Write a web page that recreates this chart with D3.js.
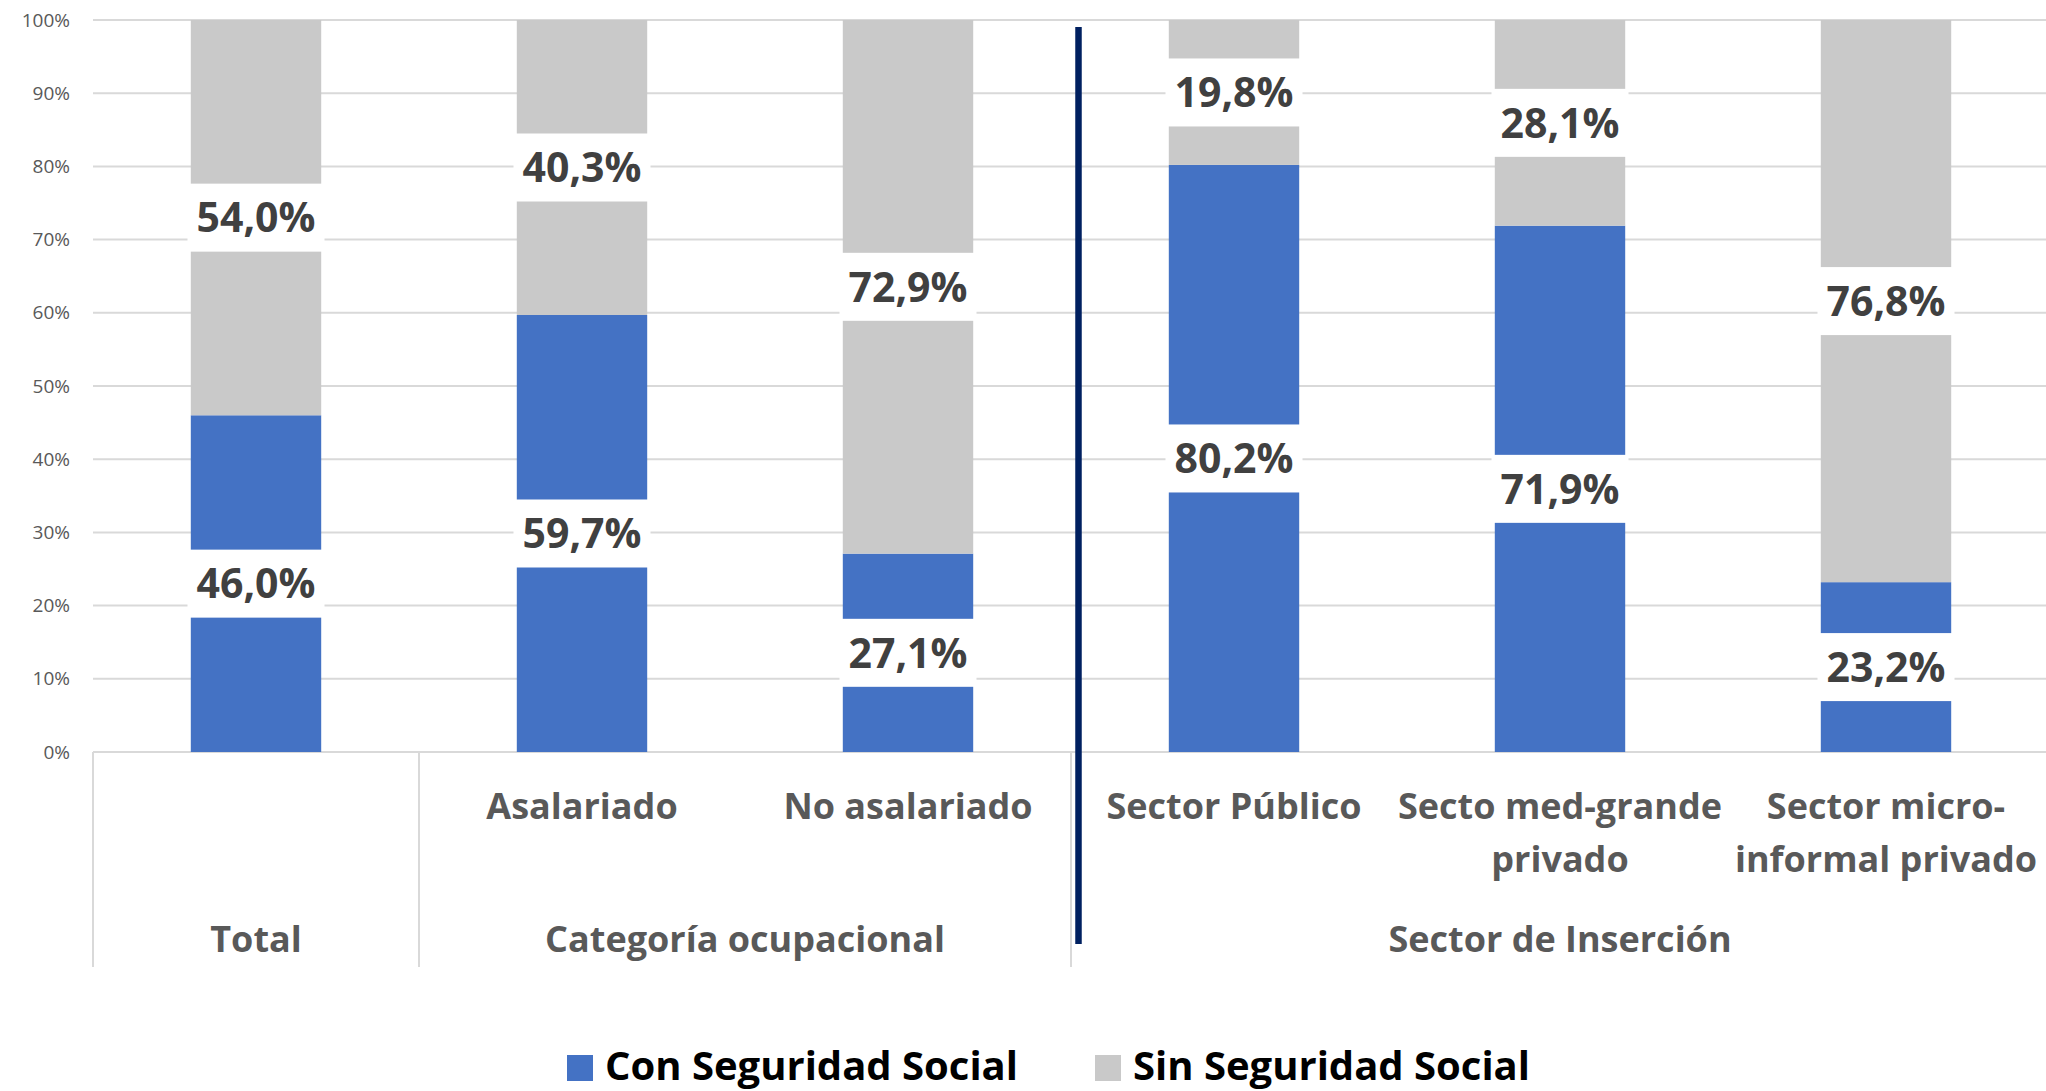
<!DOCTYPE html>
<html>
<head>
<meta charset="utf-8">
<script src="https://cdn.jsdelivr.net/npm/d3@7"></script>
<style>
    body { margin: 0; background: #fff; overflow: hidden; }
    text { font-family: "Open Sans", sans-serif; }
</style>
</head>
<body>
<svg id="chart" width="2046" height="1091"></svg>
<script>
// categories (first row of the axis) and their groups (second row)
const categories = ["Total", "Asalariado", "No asalariado", "Sector Público",
                    "Secto med-grande privado", "Sector micro-informal privado"];
const catLines = [[], ["Asalariado"], ["No asalariado"], ["Sector Público"],
                  ["Secto med-grande", "privado"], ["Sector micro-", "informal privado"]];
const groupNames = ["Total", "Categoría ocupacional", "Sector de Inserción"];
const groupFirst = [0, 1, 3];
const groupLast = [0, 2, 5];

// series, in percent
const conSeguridad = [46.0, 59.7, 27.1, 80.2, 71.9, 23.2];
const sinSeguridad = [54.0, 40.3, 72.9, 19.8, 28.1, 76.8];
const seriesNames = ["Con Seguridad Social", "Sin Seguridad Social"];
const yTicks = [0, 10, 20, 30, 40, 50, 60, 70, 80, 90, 100];

const colors = ["#4472c4", "#c9c9c9"];

let svg = d3.select("#chart");

let x = d3.scaleBand()
    .domain(categories)
    .range([93, 2049])
    .paddingInner(0.6)
    .paddingOuter(0.3);

let y = d3.scaleLinear().domain([0, 100]).range([752, 20]);

// gridlines
svg.append("g").selectAll("line")
    .data(yTicks)
    .join("line")
    .attr("x1", 93).attr("x2", 2049)
    .attr("y1", d => y(d)).attr("y2", d => y(d))
    .attr("stroke", "#d9d9d9")
    .attr("stroke-width", 2);

// y axis labels
let yAxis = svg.append("g")
    .attr("transform", "translate(93,0)")
    .call(d3.axisLeft(y).tickValues(yTicks).tickSize(0).tickPadding(23)
        .tickFormat(d => d + "%"));
yAxis.select(".domain").remove();
yAxis.selectAll("text")
    .attr("fill", "#595959")
    .style("font-size", "19px")
    .style("font-family", "'Open Sans', sans-serif");

// stacked data
let stack = categories.map((c, i) => {
    return [
        {cat: c, s: 0, y0: 0, y1: conSeguridad[i], v: conSeguridad[i]},
        {cat: c, s: 1, y0: conSeguridad[i], y1: conSeguridad[i] + sinSeguridad[i], v: sinSeguridad[i]}
    ];
}).flat();

svg.append("g").selectAll("rect")
    .data(stack)
    .join("rect")
    .attr("x", d => x(d.cat))
    .attr("width", x.bandwidth())
    .attr("y", d => y(d.y1))
    .attr("height", d => y(d.y0) - y(d.y1))
    .attr("fill", d => colors[d.s]);

// value labels on white boxes
let fmt = d3.format(".1f");
let labels = svg.append("g").selectAll("g")
    .data(stack)
    .join("g")
    .attr("transform", d => "translate(" + (x(d.cat) + x.bandwidth() / 2) + "," + y((d.y0 + d.y1) / 2) + ")");

labels.append("rect")
    .attr("x", -68.5).attr("y", -34)
    .attr("width", 137).attr("height", 68)
    .attr("fill", "#fff");

labels.append("text")
    .attr("text-anchor", "middle")
    .attr("dy", "0.36em")
    .attr("fill", "#404040")
    .style("font-size", "41px")
    .style("font-weight", "bold")
    .text(d => fmt(d.v).replace(".", ",") + "%");

// category axis: vertical separators between groups
let step = x.step();
let bounds = [0, 1, 3, 6].map(i => 93 + i * step);
svg.append("g").selectAll("line")
    .data(bounds)
    .join("line")
    .attr("x1", d => d).attr("x2", d => d)
    .attr("y1", y(0)).attr("y2", 967)
    .attr("stroke", "#d9d9d9")
    .attr("stroke-width", 2);

// first row labels
let catText = svg.append("g").selectAll("text")
    .data(categories)
    .join("text")
    .attr("x", d => x(d) + x.bandwidth() / 2)
    .attr("y", 819)
    .attr("text-anchor", "middle")
    .attr("fill", "#595959")
    .style("font-size", "36px")
    .style("font-weight", "bold");
catText.each(function(d, i) {
    let t = d3.select(this);
    catLines[i].forEach((line, j) => {
        t.append("tspan")
            .attr("x", x(d) + x.bandwidth() / 2)
            .attr("dy", j == 0 ? 0 : 53)
            .text(line);
    });
});

// second row labels
svg.append("g").selectAll("text")
    .data(groupNames)
    .join("text")
    .attr("x", (d, i) => (bounds[i] + bounds[i + 1]) / 2)
    .attr("y", 952)
    .attr("text-anchor", "middle")
    .attr("fill", "#595959")
    .style("font-size", "36px")
    .style("font-weight", "bold")
    .text(d => d);

// dark divider between the two panels
svg.append("line")
    .attr("x1", bounds[2] + 7.5).attr("x2", bounds[2] + 7.5)
    .attr("y1", 27).attr("y2", 944)
    .attr("stroke", "#002060")
    .attr("stroke-width", 6.5);

// legend
let legendX = [567, 1095];
let legend = svg.append("g").selectAll("g")
    .data(seriesNames)
    .join("g")
    .attr("transform", (d, i) => "translate(" + legendX[i] + ",1055)");

legend.append("rect")
    .attr("width", 26).attr("height", 26)
    .attr("fill", (d, i) => colors[i]);

legend.append("text")
    .attr("x", 38)
    .attr("y", 25)
    .attr("fill", "#000")
    .style("font-size", "40px")
    .style("font-weight", "bold")
    .text(d => d);
</script>
</body>
</html>
